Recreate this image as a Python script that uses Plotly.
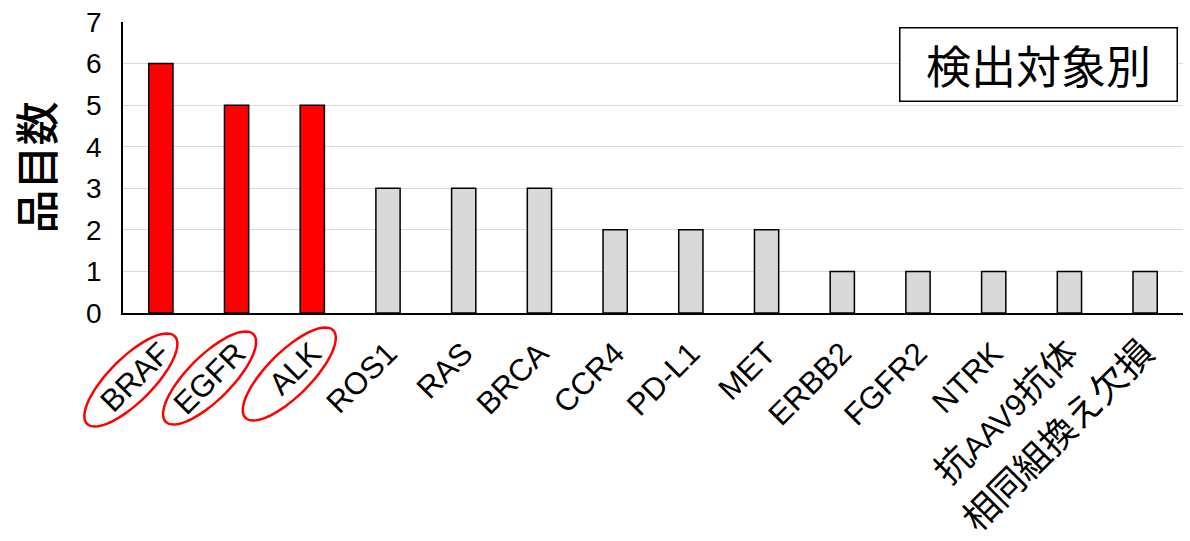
import re
import numpy as np
import plotly.graph_objects as go

categories = ["BRAF", "EGFR", "ALK", "ROS1", "RAS", "BRCA", "CCR4", "PD-L1", "MET",
              "ERBB2", "FGFR2", "NTRK", "抗AAV9抗体", "相同組換え欠損"]
counts = [6, 5, 5, 3, 3, 3, 2, 2, 2, 1, 1, 1, 1, 1]
highlighted = ["BRAF", "EGFR", "ALK"]
y_ticks = [0, 1, 2, 3, 4, 5, 6, 7]

RED = "#FF0000"
GRAY = "#D9D9D9"
FONT = "Liberation Sans, Arial, Noto Sans CJK JP, sans-serif"
CJK = "Noto Sans CJK JP, sans-serif"

colors = [RED if c in highlighted else GRAY for c in categories]


def tick_label(s):
    # kanji/kana runs are set a little larger than the Latin text
    return re.sub(r"([\u3040-\u30ff\u4e00-\u9fff]+)",
                  r'<span style="font-size:36px">\1</span>', s)


fig = go.Figure(go.Bar(
    x=categories, y=counts,
    marker=dict(color=colors, line=dict(color="black", width=1.5)),
    showlegend=False,
))


def ellipse_path(cx, cy, a, b, angle_deg, n=72):
    t = np.linspace(0, 2 * np.pi, n, endpoint=False)
    th = np.radians(angle_deg)
    xs = cx + a * np.cos(t) * np.cos(th) - b * np.sin(t) * np.sin(th)
    ys = cy + a * np.cos(t) * np.sin(th) + b * np.sin(t) * np.cos(th)
    pts = [f"{x:.2f},{y:.2f}" for x, y in zip(xs, ys)]
    return "M" + " L".join(pts) + " Z"


n_cat = len(categories)
# red rings around the highlighted tick labels (anchored at each category centre)
ring_offsets = {"BRAF": (-30, -67), "EGFR": (-27, -65), "ALK": (-23, -61)}
shapes = []
for name in highlighted:
    dx, dy = ring_offsets[name]
    shapes.append(dict(
        type="path", xref="paper", yref="paper",
        xsizemode="pixel", ysizemode="pixel",
        xanchor=(categories.index(name) + 0.5) / n_cat, yanchor=0,
        path=ellipse_path(dx, dy, 62, 22, 45),
        line=dict(color=RED, width=2.5),
        fillcolor="rgba(0,0,0,0)",
    ))

plot_w = 1190 - 123 - 7
plot_h = 541 - 22 - 228

fig.update_layout(
    width=1190, height=541,
    margin=dict(l=123, r=7, t=22, b=228, autoexpand=False),
    paper_bgcolor="white", plot_bgcolor="white",
    bargap=0.68,
    font=dict(family=FONT, color="black", size=30),
    shapes=shapes,
    annotations=[dict(
        text="検出対象別",
        x=(1178 - 123) / plot_w, y=1 - (27 - 22) / plot_h,
        xref="paper", yref="paper",
        showarrow=False, font=dict(family=CJK, size=45, color="black"),
        bordercolor="black", borderwidth=1.5, borderpad=5, bgcolor="white",
        width=266, height=62, align="center", valign="middle",
        xanchor="right", yanchor="top",
    )],
    xaxis=dict(
        type="category", range=[-0.5, n_cat - 0.5], tickangle=-45, showgrid=False,
        tickmode="array", tickvals=categories, ticktext=[tick_label(c) for c in categories],
        showline=True, linecolor="black", linewidth=1.5, automargin=False,
        ticks="", ticklabelstandoff=8, tickfont=dict(family=FONT, size=31, color="black"),
    ),
    yaxis=dict(
        range=[0, 7], tickvals=y_ticks, showgrid=True, gridcolor="#D9D9D9", gridwidth=1,
        showline=True, linecolor="black", linewidth=1.5, zeroline=False, automargin=False,
        ticks="", ticklabelstandoff=14, tickfont=dict(family=FONT, size=28, color="black"),
        title=dict(text="品目数", font=dict(family=CJK, size=44, color="black", weight=500),
                   standoff=18),
    ),
)

fig.write_html("out.html")
